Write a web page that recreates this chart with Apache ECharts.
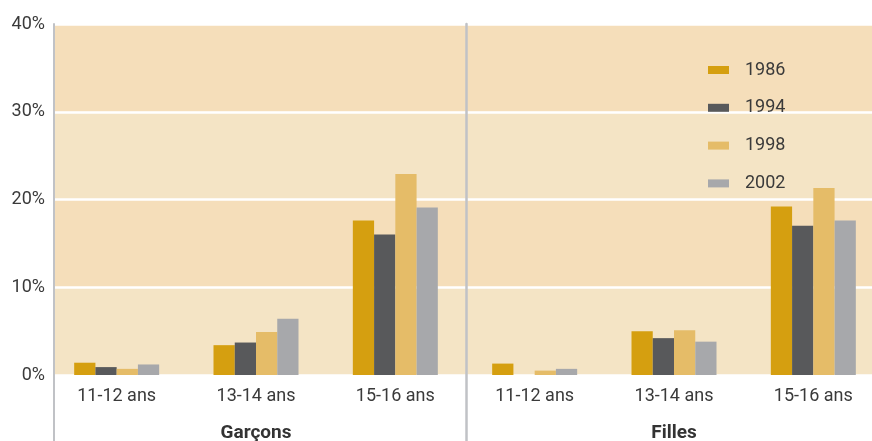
<!DOCTYPE html>
<html>
<head>
<meta charset="utf-8">
<script src="https://cdn.jsdelivr.net/npm/echarts@6/dist/echarts.min.js"></script>
<style>
html,body{margin:0;padding:0;background:#fff;}
#chart{width:872px;height:441px;}
</style>
</head>
<body>
<div id="chart"></div>
<script>
const ageGroups = ['11-12 ans', '13-14 ans', '15-16 ans'];
const years = ['1986', '1994', '1998', '2002'];
const panels = ['Garçons', 'Filles'];
const yTicks = [0, 10, 20, 30, 40];

const garcons1986 = [1.4, 3.4, 17.6];
const garcons1994 = [0.9, 3.7, 16.0];
const garcons1998 = [0.7, 4.9, 22.9];
const garcons2002 = [1.2, 6.4, 19.1];

const filles1986 = [1.3, 5.0, 19.2];
const filles1994 = [0.0, 4.2, 17.0];
const filles1998 = [0.5, 5.1, 21.3];
const filles2002 = [0.7, 3.8, 17.6];

const colors = ['#d59f10', '#58595b', '#e5bc68', '#a7a8ab'];
const FONT = "Roboto, 'Noto Sans', sans-serif";
const TXT = '#3a3a3a';

const garconsData = [garcons1986, garcons1994, garcons1998, garcons2002];
const fillesData = [filles1986, filles1994, filles1998, filles2002];

const chart = echarts.init(document.getElementById('chart'), null, {renderer: 'canvas'});

function barSeries(dataList, axisIndex) {
  return years.map((y, i) => ({
    name: y,
    type: 'bar',
    xAxisIndex: axisIndex,
    yAxisIndex: axisIndex,
    data: dataList[i],
    barGap: '0%',
    barCategoryGap: '39%',
    itemStyle: {color: colors[i]},
    emphasis: {disabled: true},
    animation: false
  }));
}

const yMax = yTicks[yTicks.length - 1];
const gridBase = {containLabel: false, outerBoundsMode: 'none'};

const option = {
  animation: false,
  textStyle: {fontFamily: FONT},
  grid: [
    Object.assign({left: 54, top: 24, right: 0, height: 351}, gridBase),
    Object.assign({left: 54, top: 24, width: 412, bottom: 0}, gridBase),
    Object.assign({left: 47, top: 24, width: 418, height: 351}, gridBase),
    Object.assign({left: 465, top: 24, width: 418, height: 351}, gridBase)
  ],
  legend: {
    data: years,
    orient: 'vertical',
    left: 708,
    top: 61,
    itemWidth: 21,
    itemHeight: 8,
    itemGap: 19.8,
    icon: 'rect',
    padding: 0,
    selectedMode: false,
    textStyle: {fontFamily: FONT, fontSize: 18, color: TXT, padding: [0, 0, 0, 11]}
  },
  xAxis: [
    {gridIndex: 0, type: 'category', data: ageGroups, show: false},
    {gridIndex: 1, type: 'category', data: ageGroups, show: false},
    {
      gridIndex: 2, type: 'category', data: ageGroups,
      axisLine: {show: false}, axisTick: {show: false},
      axisLabel: {fontFamily: FONT, fontSize: 18, color: TXT, margin: 12},
      name: panels[0], nameLocation: 'middle', nameGap: 49,
      nameTextStyle: {fontFamily: FONT, fontSize: 19, fontWeight: 'bold', color: '#333'}
    },
    {
      gridIndex: 3, type: 'category', data: ageGroups,
      axisLine: {show: false}, axisTick: {show: false},
      axisLabel: {fontFamily: FONT, fontSize: 18, color: TXT, margin: 12},
      name: panels[1], nameLocation: 'middle', nameGap: 49,
      nameTextStyle: {fontFamily: FONT, fontSize: 19, fontWeight: 'bold', color: '#333'}
    }
  ],
  yAxis: [
    {
      gridIndex: 0, type: 'value', min: 0, max: yMax, interval: 10,
      axisLine: {show: false}, axisTick: {show: false},
      axisLabel: {formatter: '{value}%', fontFamily: FONT, fontSize: 18, color: TXT, margin: 9},
      splitLine: {show: true, lineStyle: {color: '#ffffff', width: 2.5}},
      splitArea: {show: true, areaStyle: {color: ['#f4e4c5', '#f5deba']}}
    },
    {
      gridIndex: 1, type: 'value', position: 'left', z: 5,
      axisLine: {show: true, lineStyle: {color: '#c0c2c6', width: 2}},
      axisTick: {show: false}, axisLabel: {show: false}, splitLine: {show: false}
    },
    {
      gridIndex: 2, type: 'value', min: 0, max: yMax, show: false
    },
    {
      gridIndex: 3, type: 'value', min: 0, max: yMax, show: false
    },
    {
      gridIndex: 1, type: 'value', position: 'right', z: 5,
      axisLine: {show: true, onZero: false, lineStyle: {color: '#c0c2c6', width: 2.5}},
      axisTick: {show: false}, axisLabel: {show: false}, splitLine: {show: false}
    }
  ],
  series: [].concat(barSeries(garconsData, 2), barSeries(fillesData, 3))
};

chart.setOption(option);
</script>
</body>
</html>
